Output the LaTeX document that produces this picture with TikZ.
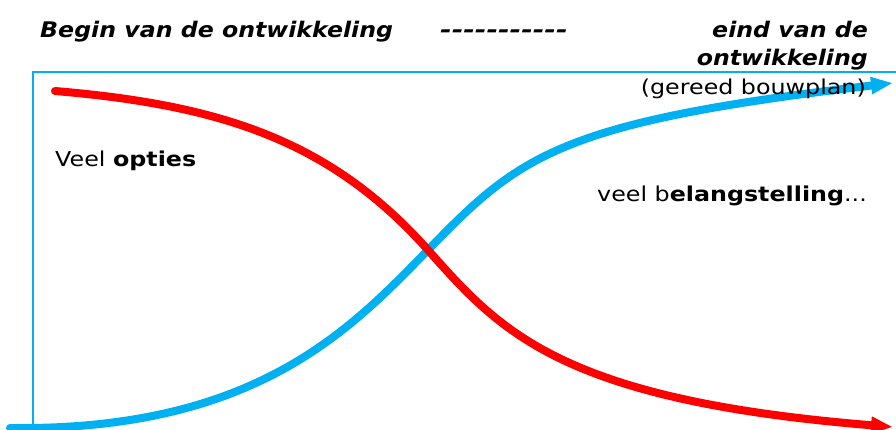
\documentclass[tikz,border=0pt]{standalone}
\usepackage{fontspec}
\setmainfont{DejaVu Sans}
\newfontfamily\headfont{DejaVu Sans}[FakeStretch=1.10]
\newfontfamily\bodyfont{DejaVu Sans}[FakeStretch=1.16]
\usetikzlibrary{arrows.meta}
\definecolor{skyb}{RGB}{0,176,240}
\definecolor{redc}{RGB}{255,0,0}
\begin{document}
\begin{tikzpicture}[x=1pt,y=-1pt,
  curve/.style={line width=8pt,line cap=round,-{Triangle[length=22pt,width=16pt]}},
  head/.style={font=\headfont\fontsize{21.5}{25}\selectfont\bfseries\itshape,inner sep=0pt},
  body/.style={font=\bodyfont\fontsize{20.5}{24}\selectfont,inner sep=0pt}]
\useasboundingbox (0,0) rectangle (896,430);
\draw[skyb,line width=1.5pt] (33,430) -- (33,72) -- (900,72);
\coordinate (r0) at (55,91);
\coordinate (r1) at (893,427);
\coordinate (b0) at (10,428);
\coordinate (b1) at (893,83);
\coordinate (x) at (428,250);
\draw[curve,skyb] (b0) .. controls (255,431) and (350,330) .. (x)
  .. controls (520,155) and (560,122) .. (b1);
\draw[curve,redc] (r0) .. controls (220,105) and (330,140) .. (x)
  .. controls (500,331) and (560,400) .. (r1);
\node[head,anchor=base west] (begin) at (40,38) {Begin van de ontwikkeling};
\node[head,anchor=base west] (dash) at (440,38) {\scalebox{1.18}[1]{{-}{-}{-}{-}{-}{-}{-}{-}{-}{-}{-}}};
\node[head,anchor=base east] (eind1) at (868,38) {eind van de};
\node[head,anchor=base east] (eind2) at (868,66) {ontwikkeling};
\node[body,anchor=base east] (gereed) at (866,95) {(gereed bouwplan)};
\node[body,anchor=base west] (opties) at (55,167) {Veel \textbf{opties}};
\node[body,anchor=base west] (belang) at (597,202) {veel b\textbf{elangstelling}...};
\end{tikzpicture}
\end{document}
